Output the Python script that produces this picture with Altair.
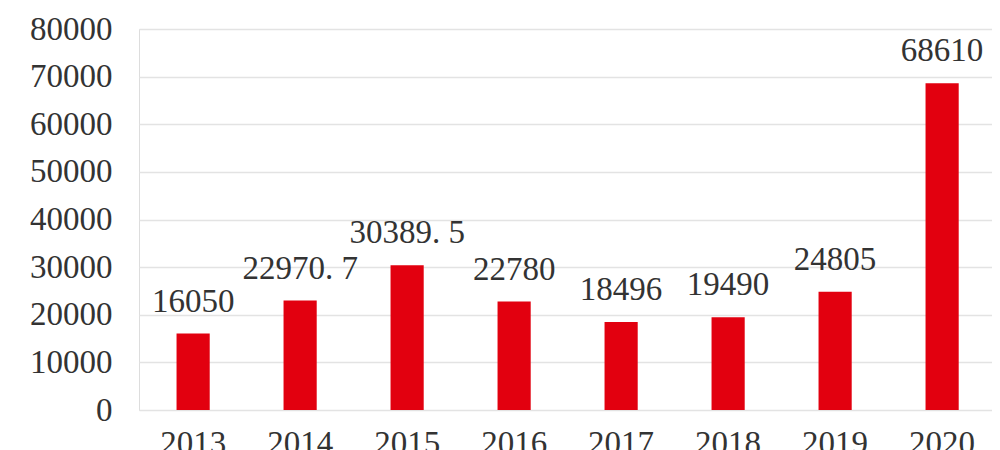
import altair as alt
import pandas as pd

years = ["2013", "2014", "2015", "2016", "2017", "2018", "2019", "2020"]
values = [16050, 22970.7, 30389.5, 22780, 18496, 19490, 24805, 68610]
labels = ["16050", "22970. 7", "30389. 5", "22780", "18496", "19490", "24805", "68610"]

df = pd.DataFrame({"year": years, "value": values, "label": labels})

FONT = "Liberation Serif"
TXT = "#333333"
FS = 33

base = alt.Chart(df).encode(
    x=alt.X("year:N", sort=years, title=None,
            scale=alt.Scale(paddingInner=0.69, paddingOuter=0.331, align=0.53),
            axis=alt.Axis(labelAngle=0, ticks=False, tickSize=0, domain=False,
                          labelFont=FONT, labelFontSize=FS, labelColor=TXT,
                          labelPadding=17, grid=False)),
    y=alt.Y("value:Q", title=None,
            scale=alt.Scale(domain=[0, 80000], nice=False),
            axis=alt.Axis(values=list(range(0, 80001, 10000)), format="d",
                          ticks=False, tickSize=0,
                          domain=False, labelFont=FONT, labelFontSize=FS,
                          labelColor=TXT, labelPadding=27,
                          gridColor="#e3e3e3", gridWidth=1.5)),
)

bars = base.mark_bar(color="#e2000f")
text = base.mark_text(baseline="bottom", dy=-15, font=FONT, fontSize=FS, color=TXT).encode(
    text="label:N")

chart = (bars + text).properties(
    width=853, height=381,
    autosize=alt.AutoSizeParams(type="none"),
    padding={"left": 131, "top": 21, "right": 0, "bottom": 50},
).configure_view(stroke=None).configure(background="white")

chart.save("out.html", embed_options={"renderer": "svg", "actions": False})
